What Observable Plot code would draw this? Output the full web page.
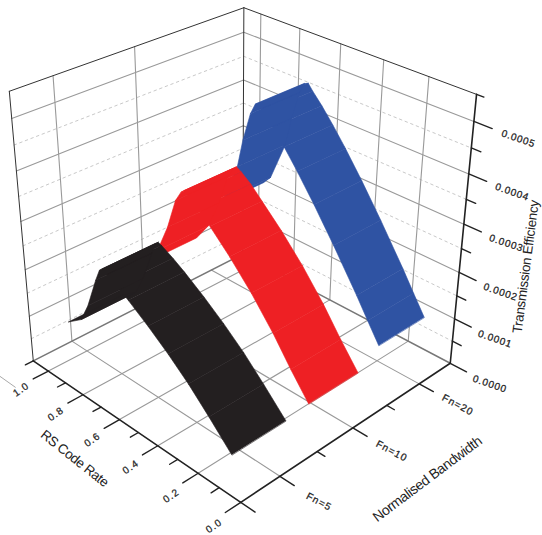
<!DOCTYPE html><html><head><meta charset="utf-8"><style>
html,body{margin:0;background:#fff}svg{display:block}
.ticklabel text{letter-spacing:1.1px}
.efflabel text{letter-spacing:.8px}
.titleA text{letter-spacing:-.4px}
.titleB text{letter-spacing:-.4px}
.titleC text{letter-spacing:-.3px}
</style></head><body><div id="c"></div>
<script src="https://cdn.jsdelivr.net/npm/d3@7"></script><script src="https://cdn.jsdelivr.net/npm/@observablehq/plot@0.6"></script>
<script>
// ---- chart values ----
const rateTicks=[0,.2,.4,.6,.8,1];
const rateMinor=[.1,.3,.5,.7,.9];
const rateLabels=["0.0","0.2","0.4","0.6","0.8","1.0"];
const bandPositions=[1,3,5];
const bandMinor=[2,4];
const bandLabels=["Fn=5","Fn=10","Fn=20"];
const effTicks=[0,1,2,3,4,5];            // × 0.0001
const effMinor=[.5,1.5,2.5,3.5,4.5];
const effLabels=["0.0000","0.0001","0.0002","0.0003","0.0004","0.0005"];
const rateMax=1.09,bandMax=6,effMax=5.5;

const blackRate=[.19,.30,.40,.50,.60,.70,.76,.82,.838,.852,.876,.93,.975,1.055];
const blackEff =[0,.50,.93,1.30,1.63,1.93,2.09,2.23,2.26,2.2,1.94,1.27,.86,.61];
const blackBand=[.8,2.25];
const redRate=[.2,.29,.38,.49,.60,.70,.76,.81,.835,.852,.882,.93,.99,1.06];
const redEff =[0,.52,1.08,1.68,2.2,2.62,2.87,3.03,3.09,3.02,2.79,2.12,1.49,1.06];
const redBand=[2.95,4.41];
const blueRate=[.26,.32,.38,.505,.61,.70,.77,.83,.88,.905,.925,.95,.99,1.02,1.10,1.14];
const blueEff =[0,.42,.85,1.69,2.36,2.9,3.29,3.6,3.83,3.96,3.92,3.68,3.04,2.4,1.49,1.29];
const blueBand=[5.44,6.94];

// ---- perspective camera, fitted from the picture's box ----
const R=rateMax,B=bandMax,T=effMax;
const anchors=[[0,0,0,239,502.5],[.2,0,0,197,473],[.4,0,0,158,445],[.6,0,0,120,420],[.8,0,0,83,395],[1,0,0,48,372],[R,0,0,33,359.5],
[0,1,0,280,475],[0,2,0,316,452],[0,3,0,352,427],[0,4,0,386,405],[0,5,0,419,383],[0,6,0,451,362.5],
[0,6,1,454.7,318.3],[0,6,2,458.8,271.7],[0,6,3,463.2,223.3],[0,6,4,467.7,173.3],[0,6,5,472.6,120.7],[0,6,T,475,94],
[R,0,1,29.4,315],[R,0,2,24.9,267.7],[R,0,3,20.5,220.7],[R,0,4,15.7,170],[R,0,5,11,118.3],[R,0,T,8.3,90.7],[R,0,T,8.3,90.7],[R,0,T,8.3,90.7],
[R,6,0,240,254],[R,6,T,243,6.5],[R,6,5,243,32],[R,6,4,243,79],[R,6,3,242,126],
[.2,6,T,428.7,76],[.4,6,T,384,60],[.6,6,T,340.7,43],[.8,6,T,300.7,28],[1,6,T,262,14],[R,1,T,52.3,76],[R,3,T,134.3,46.7],[R,1,0,72,340]];
function solve(A,y){const n=y.length;A=A.map((r,i)=>[...r,y[i]]);for(let i=0;i<n;i++){let m=i;for(let k=i;k<n;k++)if(Math.abs(A[k][i])>Math.abs(A[m][i]))m=k;[A[i],A[m]]=[A[m],A[i]];for(let k=0;k<n;k++)if(k!=i){const f=A[k][i]/A[i][i];for(let j=i;j<=n;j++)A[k][j]-=f*A[i][j];}}return A.map((r,i)=>r[n]/r[i]);}
const rows=[],ys=[];for(const [X,Y,Z,u,v] of anchors){rows.push([X,Y,Z,1,0,0,0,0,-u*X,-u*Y,-u*Z]);ys.push(u);rows.push([0,0,0,0,X,Y,Z,1,-v*X,-v*Y,-v*Z]);ys.push(v);}
const ATA=Array.from({length:11},(_,i)=>Array.from({length:11},(_,j)=>d3.sum(rows,r=>r[i]*r[j])));
const ATy=ATA.map((_,i)=>d3.sum(rows,(r,k)=>r[i]*ys[k]));
const p=solve(ATA,ATy);
const project=(r,b,z)=>{const w=p[8]*r+p[9]*b+p[10]*z+1;return{x:(p[0]*r+p[1]*b+p[2]*z+p[3])/w,y:(p[4]*r+p[5]*b+p[6]*z+p[7])/w}};

// ---- helpers ----
const seg=(list)=>list.flatMap((s,i)=>[{...project(...s[0]),id:i},{...project(...s[1]),id:i}]);
const lines=(list,o)=>Plot.line(seg(list),{x:"x",y:"y",z:"id",...o});
const ribbon=(rate,eff,band,color)=>{
  const quads=[];
  for(let i=0;i<rate.length-1;i++){
    [[rate[i],band[0],eff[i]],[rate[i+1],band[0],eff[i+1]],[rate[i+1],band[1],eff[i+1]],[rate[i],band[1],eff[i]]]
      .forEach(q=>quads.push({...project(...q),id:i}));
  }
  return Plot.line(quads,{x:"x",y:"y",z:"id",fill:color,stroke:color,strokeWidth:.6,curve:"linear-closed"});
};
const text=(data,o)=>Plot.text(data,{x:"x",y:"y",text:"t",fontFamily:"Liberation Sans",fill:"#222",textAnchor:"middle",lineAnchor:"middle",...o});

const gridSolid=[
 ...[...effTicks.slice(1)].flatMap(z=>[[[R,0,z],[R,B,z]],[[R,B,z],[0,B,z]]]),
 ...rateTicks.slice(1).map(r=>[[r,0,0],[r,B,0]]),
 ...bandPositions.map(b=>[[0,b,0],[R,b,0]]),
 ...rateTicks.slice(1).map(r=>[[r,B,0],[r,B,T]]),
 ...bandPositions.slice(0,2).map(b=>[[R,b,0],[R,b,T]])
];
const gridDash=effMinor.flatMap(z=>[[[R,0,z],[R,B,z]],[[R,B,z],[0,B,z]]]);
const floorEdge=[[[R,0,0],[R,B,0]],[[R,B,0],[0,B,0]]];
const boxEdge=[[[R,0,0],[R,0,T]],[[R,B,0],[R,B,T]],[[R,0,T],[R,B,T]],[[R,B,T],[0,B,T]]];
const axes=[[[0,0,0],[R,0,0]],[[0,0,0],[0,B,0]],[[0,B,0],[0,B,T]]];
const ticksMajor=[
 ...rateTicks.map(r=>[[r,0,0],[r,-.38,0]]),
 ...[...bandPositions,0].map(b=>[[0,b,0],[-.065,b,0]]),
 ...effTicks.map(z=>[[0,B,z],[-.075,B,z]])
];
const ticksMinor=[
 ...rateMinor.map(r=>[[r,0,0],[r,-.2,0]]),
 [[R,0,0],[R,-.2,0]],
 ...bandMinor.map(b=>[[0,b,0],[-.035,b,0]]),
 ...effMinor.map(z=>[[0,B,z],[-.04,B,z]]),
 [[0,B,T],[-.03,B,T]]
];
const strayRate=[[[1.005,-.8,0],[1.12,-.8,0]]];

// ---- label placement along each axis ----
const rateText=rateLabels.map((t,i)=>({...project(rateTicks[i]-.02,-.76,0),t}));
const bandText=bandLabels.map((t,i)=>({...project(-.175,bandPositions[i],0),t}));
const effText=effLabels.map((t,i)=>({...project(-.18,B,effTicks[i]),t}));
const tick={fontSize:10,stroke:"#222",strokeWidth:.25,className:"ticklabel"};

const chart=Plot.plot({
 width:542,height:535,margin:0,
 x:{domain:[0,542],range:[0,542],axis:null},
 y:{domain:[0,535],range:[0,535],axis:null},
 style:{background:"#fff"},
 marks:[
  lines(gridDash,{stroke:"#c9c9c9",strokeWidth:1,strokeDasharray:"2.5,3.5"}),
  lines(gridSolid,{stroke:"#999",strokeWidth:1.1}),
  lines(floorEdge,{stroke:"#777",strokeWidth:1.5}),
  lines(boxEdge,{stroke:"#333",strokeWidth:1}),
  lines(strayRate,{stroke:"#aaa",strokeWidth:1}),
  ribbon(blueRate,blueEff,blueBand,"#2f53a3"),
  ribbon(redRate,redEff,redBand,"#ee2024"),
  ribbon(blackRate,blackEff,blackBand,"#231f20"),
  lines(ticksMajor,{stroke:"#222",strokeWidth:1.4}),
  lines(ticksMinor,{stroke:"#222",strokeWidth:1.4}),
  lines(axes,{stroke:"#222",strokeWidth:1.6}),
  text(rateText,{rotate:-35,...tick}),
  text(bandText,{rotate:28,...tick}),
  text(effText,{rotate:19,...tick,className:"efflabel"}),
  text([{...project(.545,-1.34,0),t:"RS Code Rate"}],{rotate:38.5,fontSize:13.5,className:"titleA"}),
  text([{...project(-.35,2.85,0),t:"Normalised Bandwidth"}],{rotate:-37,fontSize:14,className:"titleB"}),
  text([{...project(-.268,B,2.72),t:"Transmission Efficiency"}],{rotate:-82.5,fontSize:13.5,className:"titleC"})
 ]
});
document.getElementById("c").append(chart);
</script></body></html>
